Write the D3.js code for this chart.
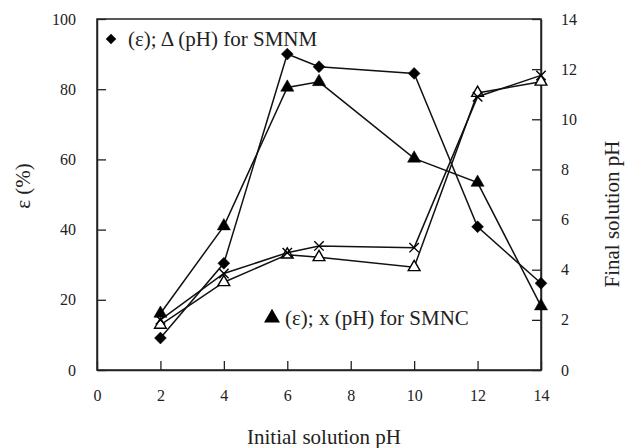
<!DOCTYPE html>
<html>
<head>
<meta charset="utf-8">
<script src="https://cdn.jsdelivr.net/npm/d3@7"></script>
<style>
  body{margin:0;background:#fff;}
  svg text{font-family:'Liberation Serif','DejaVu Serif',serif;fill:#222;}
</style>
</head>
<body>
<svg id="chart" width="631" height="448"></svg>
<script>
// 数据
var initialPH = [2, 4, 6, 7, 10, 12, 14];
var epsSMNM = [9.1, 30.4, 90.0, 86.4, 84.5, 40.8, 24.7];   // ◆
var epsSMNC = [16.1, 41.0, 80.5, 82.1, 60.3, 53.4, 18.2];  // ▲
var phSMNM = [1.8, 3.5, 4.6, 4.5, 4.1, 11.05, 11.5];       // Δ
var phSMNC = [2.0, 3.85, 4.68, 4.95, 4.88, 10.9, 11.75];   // x
var xTicks = [0, 2, 4, 6, 8, 10, 12, 14];
var yLeftTicks = [0, 20, 40, 60, 80, 100];
var yRightTicks = [0, 2, 4, 6, 8, 10, 12, 14];

(function(){
    var svg = d3.select('#chart');
    var pLeft = 97, pRight = 541, pTop = 19, pBottom = 370;

    var x = d3.scaleLinear().domain([0, 14]).range([pLeft, pRight]);
    var yL = d3.scaleLinear().domain([0, 100]).range([pBottom, pTop]);
    var yR = d3.scaleLinear().domain([0, 14]).range([pBottom, pTop]);

    // 边框
    svg.append('rect')
        .attr('x', pLeft).attr('y', pTop)
        .attr('width', pRight - pLeft).attr('height', pBottom - pTop)
        .attr('fill', 'none').attr('stroke', '#222').attr('stroke-width', 1.5);

    // 坐标轴 (刻度朝内)
    function styleAxis(g){
        g.select('.domain').attr('stroke', '#222').attr('stroke-width', 1.5);
        g.selectAll('.tick line').attr('stroke', '#222').attr('stroke-width', 1.3);
        g.selectAll('.tick text').attr('font-size', 16).attr('fill', '#222')
            .style('font-family', "'Liberation Serif',serif");
    }
    svg.append('g').attr('transform', 'translate(0,' + pBottom + ')')
        .call(d3.axisBottom(x).tickValues(xTicks).tickSizeInner(-9).tickSizeOuter(0).tickPadding(20))
        .call(styleAxis);
    svg.append('g').attr('transform', 'translate(' + pLeft + ',0)')
        .call(d3.axisLeft(yL).tickValues(yLeftTicks).tickSizeInner(-9).tickSizeOuter(0).tickPadding(21))
        .call(styleAxis);
    svg.append('g').attr('transform', 'translate(' + pRight + ',0)')
        .call(d3.axisRight(yR).tickValues(yRightTicks).tickSizeInner(-9).tickSizeOuter(0).tickPadding(20))
        .call(styleAxis);

    // 轴标题
    svg.append('text').text('Initial solution pH')
        .attr('x', 324).attr('y', 444).attr('text-anchor', 'middle').attr('font-size', 21);
    svg.append('text').text('ε (%)')
        .attr('transform', 'translate(30,186) rotate(-90)')
        .attr('text-anchor', 'middle').attr('font-size', 21);
    svg.append('text').text('Final solution pH')
        .attr('transform', 'translate(619,214) rotate(-90)')
        .attr('text-anchor', 'middle').attr('font-size', 21);

    // 系列
    var series = [
        {vals: epsSMNM, y: yL, sym: d3.symbolDiamond2, size: 90, fill: '#000'},
        {vals: epsSMNC, y: yL, sym: d3.symbolTriangle, size: 75, fill: '#000'},
        {vals: phSMNM, y: yR, sym: d3.symbolTriangle, size: 60, fill: '#fff'},
        {vals: phSMNC, y: yR, sym: d3.symbolX, size: 60, fill: 'none'}
    ];

    series.forEach(function(s){
        var pts = initialPH.map(function(p, i){ return [x(p), s.y(s.vals[i])]; });
        svg.append('path')
            .attr('d', d3.line()(pts))
            .attr('fill', 'none').attr('stroke', '#111').attr('stroke-width', 1.5);
        svg.append('g').selectAll('path').data(pts).enter().append('path')
            .attr('transform', function(d){ return 'translate(' + d[0] + ',' + d[1] + ')'; })
            .attr('d', d3.symbol().type(s.sym).size(s.size))
            .attr('fill', s.fill)
            .attr('stroke', '#000').attr('stroke-width', s.fill == '#000' ? 0.5 : 1.4);
    });

    // 图例
    svg.append('path')
        .attr('transform', 'translate(111,39)')
        .attr('d', d3.symbol().type(d3.symbolDiamond2).size(70))
        .attr('fill', '#000');
    svg.append('text').text('(ε); Δ (pH) for SMNM')
        .attr('x', 128).attr('y', 46).attr('font-size', 21);

    svg.append('path')
        .attr('transform', 'translate(272,318)')
        .attr('d', d3.symbol().type(d3.symbolTriangle).size(110))
        .attr('fill', '#000');
    svg.append('text').text('(ε); x (pH) for SMNC')
        .attr('x', 285).attr('y', 325).attr('font-size', 21);
})();
</script>
</body>
</html>
